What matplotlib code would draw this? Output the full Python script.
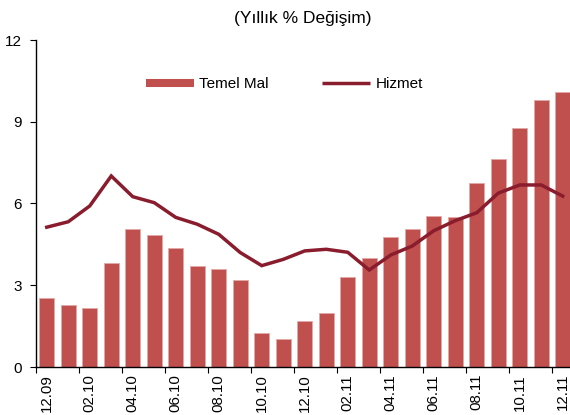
import matplotlib
matplotlib.use("Agg")
import matplotlib.pyplot as plt
from matplotlib.lines import Line2D
import numpy as np

plt.rcParams['font.family'] = ['Liberation Sans', 'DejaVu Sans']

months = ["12.09", "01.10", "02.10", "03.10", "04.10", "05.10", "06.10", "07.10",
          "08.10", "09.10", "10.10", "11.10", "12.10", "01.11", "02.11", "03.11",
          "04.11", "05.11", "06.11", "07.11", "08.11", "09.11", "10.11", "11.11", "12.11"]
temel_mal = [2.52, 2.27, 2.15, 3.80, 5.05, 4.84, 4.37, 3.72, 3.60, 3.18, 1.24, 1.04,
             1.69, 1.97, 3.30, 3.99, 4.76, 5.05, 5.55, 5.49, 6.75, 7.63, 8.77, 9.81, 10.09]
hizmet = [5.13, 5.33, 5.91, 7.01, 6.25, 6.03, 5.49, 5.24, 4.87, 4.20, 3.72, 3.95,
          4.26, 4.32, 4.21, 3.56, 4.11, 4.44, 5.00, 5.37, 5.66, 6.38, 6.68, 6.68, 6.27]
yticks = [0, 3, 6, 9, 12]

bar_color = '#C0504D'
line_color = '#8A1D2D'

fig = plt.figure(figsize=(5.7, 4.15), dpi=100)
W, H = 570, 415
x0, y0, ytop = 36, 367, 40
ax = fig.add_axes([x0 / W, (H - y0) / H, (W - x0) / W, (y0 - ytop) / H])

x = np.arange(len(months))
ax.bar(x, temel_mal, width=0.7, color=bar_color, edgecolor='#E3A9A7', linewidth=0.6, zorder=2)
ax.plot(x, hizmet, color=line_color, lw=2.5, zorder=3, solid_joinstyle='miter')

step = 21.5
ax.set_xlim(-0.5, -0.5 + (W - x0) / step)
ax.set_ylim(0, 12)
ax.set_yticks(yticks)
ax.set_yticklabels([str(v) for v in yticks], fontsize=11)

ax.set_xticks(np.arange(-0.5, len(months), 2))
ax.set_xticklabels([])
ax.set_xticks(x[::2], minor=True)
ax.set_xticklabels(months[::2], minor=True, rotation=90, fontsize=10.8)
ax.tick_params(axis='x', which='major', length=4, width=0.8, direction='out')
ax.tick_params(axis='x', which='minor', length=0, pad=5)
ax.tick_params(axis='y', length=4, width=0.8, direction='out', pad=6)

for s in ['top', 'right']:
    ax.spines[s].set_visible(False)
for s in ['left', 'bottom']:
    ax.spines[s].set_linewidth(1.0)
    ax.spines[s].set_color('black')

handles = [Line2D([], [], color=bar_color, lw=5.8, solid_capstyle='butt'),
           Line2D([], [], color=line_color, lw=2.5, solid_capstyle='butt')]
ax.legend(handles, ['Temel Mal', 'Hizmet'], ncol=2, frameon=False, fontsize=11,
          loc='center left', bbox_to_anchor=(0.206, 0.8654), borderaxespad=0,
          borderpad=0, handlelength=3.15, handletextpad=0.33, columnspacing=3.5)

fig.text(303 / W, 1 - 18 / H, '(Yıllık % Değişim)', ha='center', va='center', fontsize=12.5)

fig.savefig('out.png', dpi=100)
